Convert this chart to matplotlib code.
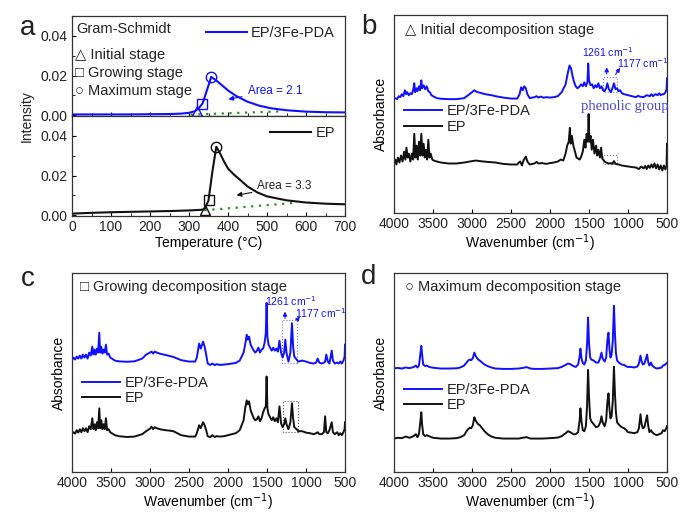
import matplotlib
matplotlib.use('Agg')
import matplotlib.pyplot as plt
from matplotlib.patches import Rectangle

plt.rcParams['font.family'] = ['Liberation Sans', 'DejaVu Sans']
plt.rcParams['font.size'] = 10
plt.rcParams['text.color'] = '#222222'

BLUE = '#1010ff'
BLACK = '#111111'
GREEN = '#2e8b2e'

# ---- panel a: Gram-Schmidt curves ----
temp_fe = [0, 50, 100, 150, 200, 250, 280, 300, 315, 325, 335, 345, 357, 370, 385, 400, 420, 450,
           480, 510, 550, 600, 650, 700]
gs_fe = [0.0004, 0.0004, 0.0004, 0.0004, 0.0005, 0.0006, 0.0008, 0.0012, 0.002, 0.0035, 0.006, 0.012,
         0.0193, 0.0175, 0.015, 0.0125, 0.0098, 0.0068, 0.0048, 0.0035, 0.0025, 0.0018, 0.0015, 0.0014]
temp_ep = [0, 50, 100, 150, 200, 250, 300, 330, 340, 350, 360, 370, 380, 390, 400, 415, 430, 450,
           475, 500, 550, 600, 650, 700]
gs_ep = [0.0008, 0.0012, 0.0015, 0.0017, 0.0019, 0.0021, 0.0024, 0.0027, 0.003, 0.0075, 0.022, 0.0345,
         0.031, 0.027, 0.0235, 0.0205, 0.018, 0.0145, 0.0115, 0.0095, 0.0075, 0.0064, 0.0058, 0.0055]
stage_t_fe = [321, 334, 357]
stage_v_fe = [0.002, 0.0055, 0.0193]
stage_t_ep = [340, 350, 370]
stage_v_ep = [0.0028, 0.0075, 0.0345]
stage_markers = ['^', 's', 'o']
base_t_fe = [304, 543]
base_v_fe = [0.0003, 0.002]
base_t_ep = [340, 577]
base_v_ep = [0.0025, 0.0063]

# ---- panel b: initial decomposition stage ----
wn_b_fe = [4000, 3980, 3960, 3940, 3920, 3900, 3880, 3860, 3845, 3830, 3810, 3790, 3770, 3750, 3740, 3730,
           3710, 3700, 3680, 3665, 3650, 3640, 3620, 3600, 3580, 3560, 3540, 3520, 3500, 3450, 3400, 3300,
           3200, 3100, 3050, 3000, 2970, 2940, 2900, 2850, 2800, 2750, 2700, 2600, 2500, 2420, 2390, 2370,
           2350, 2330, 2310, 2290, 2260, 2200, 2170, 2150, 2120, 2080, 2050, 2000, 1950, 1900, 1850, 1800,
           1770, 1750, 1730, 1710, 1690, 1670, 1650, 1630, 1600, 1580, 1560, 1540, 1520, 1510, 1500, 1480,
           1460, 1440, 1420, 1400, 1380, 1360, 1340, 1320, 1300, 1280, 1265, 1245, 1220, 1200, 1180, 1160,
           1140, 1120, 1100, 1080, 1050, 1000, 950, 900, 870, 850, 800, 760, 720, 700, 680, 650, 620, 600,
           580, 560, 540, 520, 505, 500]
ab_b_fe = [0.575, 0.58, 0.575, 0.59, 0.585, 0.6, 0.59, 0.62, 0.6, 0.61, 0.595, 0.605, 0.6, 0.63, 0.655, 0.61,
           0.63, 0.615, 0.64, 0.62, 0.67, 0.63, 0.645, 0.625, 0.64, 0.615, 0.61, 0.595, 0.59, 0.58, 0.577, 0.575,
           0.575, 0.58, 0.595, 0.61, 0.62, 0.612, 0.608, 0.602, 0.598, 0.595, 0.59, 0.583, 0.578, 0.578, 0.6, 0.635,
           0.62, 0.64, 0.63, 0.6, 0.58, 0.585, 0.59, 0.583, 0.588, 0.582, 0.585, 0.583, 0.585, 0.59, 0.61, 0.65,
           0.71, 0.745, 0.73, 0.69, 0.66, 0.64, 0.63, 0.635, 0.65, 0.64, 0.66, 0.64, 0.66, 0.755, 0.67, 0.645,
           0.65, 0.63, 0.645, 0.635, 0.655, 0.63, 0.64, 0.62, 0.615, 0.63, 0.655, 0.625, 0.61, 0.63, 0.655, 0.625,
           0.63, 0.615, 0.62, 0.605, 0.6, 0.595, 0.59, 0.585, 0.592, 0.588, 0.585, 0.595, 0.59, 0.6, 0.59, 0.6,
           0.595, 0.605, 0.595, 0.6, 0.6, 0.61, 0.625, 0.68]
wn_b_ep = [4000, 3985, 3970, 3950, 3930, 3910, 3890, 3870, 3855, 3840, 3825, 3810, 3790, 3770, 3755, 3740,
           3725, 3710, 3695, 3680, 3665, 3650, 3635, 3620, 3605, 3590, 3575, 3560, 3545, 3530, 3510, 3490,
           3450, 3400, 3300, 3200, 3100, 3000, 2950, 2900, 2800, 2700, 2600, 2500, 2420, 2400, 2380, 2360,
           2340, 2310, 2290, 2260, 2200, 2170, 2150, 2100, 2050, 2000, 1950, 1900, 1860, 1830, 1800, 1780,
           1760, 1745, 1735, 1720, 1700, 1680, 1660, 1640, 1620, 1600, 1580, 1560, 1545, 1530, 1515, 1505,
           1495, 1480, 1465, 1450, 1430, 1410, 1395, 1380, 1360, 1345, 1330, 1300, 1280, 1250, 1220, 1200,
           1180, 1160, 1120, 1080, 1050, 1000, 950, 900, 860, 830, 800, 780, 760, 740, 720, 700, 680, 660,
           640, 620, 600, 580, 560, 540, 520, 505, 500]
ab_b_ep = [0.25, 0.27, 0.245, 0.28, 0.255, 0.29, 0.26, 0.31, 0.27, 0.33, 0.28, 0.3, 0.26, 0.3, 0.27, 0.4,
           0.28, 0.34, 0.27, 0.36, 0.29, 0.4, 0.29, 0.35, 0.28, 0.32, 0.27, 0.37, 0.28, 0.3, 0.27, 0.265,
           0.26, 0.255, 0.25, 0.25, 0.255, 0.262, 0.265, 0.262, 0.258, 0.255, 0.248, 0.245, 0.245, 0.255, 0.26, 0.24,
           0.265, 0.285, 0.26, 0.245, 0.25, 0.258, 0.25, 0.252, 0.248, 0.252, 0.255, 0.26, 0.27, 0.265, 0.3, 0.34,
           0.36, 0.43, 0.35, 0.39, 0.34, 0.31, 0.28, 0.275, 0.27, 0.285, 0.31, 0.37, 0.33, 0.4, 0.36, 0.5,
           0.36, 0.39, 0.32, 0.37, 0.3, 0.34, 0.29, 0.32, 0.28, 0.33, 0.275, 0.26, 0.255, 0.25, 0.252, 0.248,
           0.262, 0.248, 0.245, 0.24, 0.238, 0.235, 0.232, 0.23, 0.222, 0.235, 0.225, 0.238, 0.222, 0.24, 0.228, 0.245,
           0.23, 0.25, 0.225, 0.245, 0.22, 0.24, 0.215, 0.24, 0.22, 0.24, 0.35]

# ---- panel c: growing decomposition stage ----
wn_c = [4000, 3980, 3960, 3940, 3920, 3900, 3880, 3860, 3840, 3820, 3800, 3780, 3760, 3740, 3725, 3710,
        3695, 3680, 3665, 3650, 3640, 3625, 3610, 3595, 3580, 3565, 3550, 3530, 3510, 3490, 3450, 3400,
        3300, 3200, 3100, 3050, 3000, 2980, 2960, 2940, 2900, 2850, 2800, 2750, 2700, 2650, 2600, 2500,
        2420, 2400, 2370, 2350, 2320, 2300, 2280, 2260, 2230, 2200, 2170, 2150, 2100, 2050, 2000, 1950,
        1900, 1850, 1800, 1780, 1760, 1745, 1730, 1710, 1690, 1670, 1650, 1630, 1610, 1590, 1570, 1550,
        1530, 1515, 1505, 1495, 1480, 1460, 1440, 1420, 1400, 1380, 1360, 1340, 1320, 1300, 1280, 1265,
        1250, 1225, 1200, 1180, 1165, 1150, 1120, 1100, 1050, 1000, 950, 900, 870, 850, 830, 800,
        770, 755, 740, 720, 700, 670, 655, 630, 600, 580, 560, 540, 520, 505, 500]
ab_c_fe = [0.563, 0.575, 0.565, 0.58, 0.57, 0.585, 0.57, 0.59, 0.575, 0.59, 0.57, 0.6, 0.585, 0.63, 0.59, 0.615,
           0.59, 0.62, 0.6, 0.7, 0.6, 0.63, 0.595, 0.615, 0.6, 0.64, 0.59, 0.595, 0.575, 0.57, 0.56, 0.556,
           0.554, 0.556, 0.57, 0.59, 0.6, 0.605, 0.595, 0.605, 0.598, 0.592, 0.588, 0.583, 0.578, 0.57, 0.562, 0.555,
           0.555, 0.575, 0.645, 0.62, 0.655, 0.63, 0.59, 0.545, 0.538, 0.545, 0.537, 0.542, 0.538, 0.54, 0.542, 0.545,
           0.548, 0.56, 0.6, 0.64, 0.69, 0.665, 0.68, 0.64, 0.625, 0.61, 0.6, 0.61, 0.625, 0.6, 0.615, 0.62,
           0.65, 0.7, 0.85, 0.68, 0.64, 0.625, 0.61, 0.625, 0.61, 0.62, 0.605, 0.66, 0.6, 0.575, 0.6, 0.665,
           0.6, 0.555, 0.6, 0.748, 0.63, 0.58, 0.565, 0.555, 0.56, 0.555, 0.548, 0.545, 0.55, 0.57, 0.55, 0.545,
           0.55, 0.555, 0.59, 0.555, 0.545, 0.61, 0.56, 0.545, 0.55, 0.545, 0.555, 0.545, 0.56, 0.58, 0.64]
ab_c_ep = [0.193, 0.2, 0.193, 0.21, 0.198, 0.215, 0.2, 0.22, 0.205, 0.22, 0.2, 0.23, 0.215, 0.27, 0.215, 0.24,
           0.21, 0.25, 0.22, 0.32, 0.22, 0.26, 0.215, 0.24, 0.215, 0.27, 0.21, 0.215, 0.2, 0.195, 0.185, 0.18,
           0.176, 0.178, 0.19, 0.205, 0.218, 0.228, 0.215, 0.225, 0.218, 0.213, 0.21, 0.208, 0.205, 0.195, 0.185, 0.178,
           0.178, 0.195, 0.235, 0.22, 0.25, 0.235, 0.21, 0.18, 0.175, 0.185, 0.175, 0.18, 0.178, 0.18, 0.185, 0.19,
           0.195, 0.21, 0.26, 0.32, 0.36, 0.34, 0.355, 0.31, 0.29, 0.27, 0.26, 0.265, 0.28, 0.255, 0.27, 0.3,
           0.32, 0.33, 0.48, 0.32, 0.29, 0.275, 0.26, 0.275, 0.255, 0.27, 0.25, 0.33, 0.245, 0.225, 0.24, 0.27,
           0.24, 0.215, 0.25, 0.345, 0.27, 0.225, 0.215, 0.205, 0.205, 0.198, 0.195, 0.19, 0.195, 0.2, 0.19, 0.19,
           0.2, 0.28, 0.2, 0.195, 0.21, 0.25, 0.2, 0.19, 0.2, 0.185, 0.195, 0.185, 0.2, 0.215, 0.25]

# ---- panel d: maximum decomposition stage ----
wn_d = [4000, 3950, 3900, 3850, 3800, 3750, 3720, 3700, 3680, 3660, 3650, 3640, 3625, 3600, 3580, 3550,
        3500, 3400, 3300, 3200, 3150, 3100, 3070, 3050, 3030, 3010, 2990, 2970, 2955, 2940, 2920, 2900,
        2870, 2840, 2800, 2750, 2700, 2600, 2500, 2400, 2350, 2300, 2250, 2200, 2100, 2000, 1900, 1850,
        1800, 1770, 1740, 1700, 1670, 1640, 1620, 1610, 1598, 1580, 1560, 1540, 1525, 1512, 1500, 1485,
        1470, 1440, 1410, 1380, 1355, 1340, 1325, 1300, 1280, 1265, 1250, 1238, 1225, 1210, 1195, 1180,
        1168, 1155, 1140, 1110, 1080, 1050, 1020, 1000, 960, 920, 880, 860, 840, 825, 810, 790,
        770, 755, 740, 725, 705, 690, 660, 630, 600, 570, 550, 530, 510, 500]
ab_d_fe = [0.521, 0.523, 0.52, 0.525, 0.522, 0.527, 0.535, 0.525, 0.535, 0.6, 0.634, 0.59, 0.54, 0.532, 0.535, 0.528,
           0.524, 0.52, 0.52, 0.521, 0.525, 0.535, 0.55, 0.56, 0.565, 0.562, 0.572, 0.6, 0.585, 0.575, 0.565, 0.56,
           0.55, 0.54, 0.532, 0.525, 0.52, 0.518, 0.518, 0.52, 0.523, 0.527, 0.52, 0.518, 0.518, 0.52, 0.522, 0.528,
           0.538, 0.545, 0.542, 0.532, 0.528, 0.54, 0.58, 0.62, 0.575, 0.548, 0.54, 0.56, 0.64, 0.776, 0.65, 0.575,
           0.565, 0.56, 0.55, 0.55, 0.575, 0.6, 0.57, 0.555, 0.575, 0.66, 0.7, 0.62, 0.575, 0.59, 0.66, 0.835,
           0.7, 0.6, 0.56, 0.548, 0.54, 0.538, 0.53, 0.528, 0.528, 0.525, 0.53, 0.545, 0.585, 0.555, 0.54, 0.545,
           0.57, 0.59, 0.55, 0.535, 0.55, 0.535, 0.525, 0.52, 0.522, 0.525, 0.535, 0.538, 0.545, 0.548]
ab_d_ep = [0.168, 0.172, 0.17, 0.178, 0.172, 0.18, 0.19, 0.175, 0.19, 0.26, 0.3, 0.24, 0.19, 0.18, 0.185, 0.18,
           0.172, 0.168, 0.168, 0.17, 0.175, 0.185, 0.205, 0.215, 0.222, 0.22, 0.235, 0.275, 0.26, 0.25, 0.24, 0.235,
           0.22, 0.205, 0.19, 0.178, 0.172, 0.168, 0.168, 0.168, 0.172, 0.175, 0.168, 0.168, 0.168, 0.17, 0.173, 0.18,
           0.195, 0.205, 0.2, 0.19, 0.19, 0.2, 0.26, 0.32, 0.26, 0.21, 0.205, 0.23, 0.33, 0.513, 0.38, 0.27,
           0.255, 0.24, 0.225, 0.23, 0.25, 0.28, 0.25, 0.23, 0.26, 0.35, 0.395, 0.32, 0.27, 0.28, 0.36, 0.529,
           0.4, 0.3, 0.25, 0.235, 0.225, 0.22, 0.21, 0.2, 0.198, 0.195, 0.2, 0.22, 0.29, 0.24, 0.22, 0.225,
           0.26, 0.285, 0.23, 0.2, 0.21, 0.2, 0.19, 0.185, 0.19, 0.195, 0.21, 0.205, 0.22, 0.23]


fig = plt.figure(figsize=(6.8, 5.12), dpi=100)
W, H = 680.0, 512.0


def axes_px(x0, y0, x1, y1):
    return fig.add_axes([x0 / W, 1 - y1 / H, (x1 - x0) / W, (y1 - y0) / H])


def style(ax):
    for s in ax.spines.values():
        s.set_color('#333333')
        s.set_linewidth(0.9)
    ax.tick_params(direction='in', length=3, width=0.8, labelsize=10, pad=3, labelcolor='#222222')
    ax.tick_params(which='minor', direction='in', length=2, width=0.6)


# panel a
axa1 = axes_px(72, 16, 345, 116)
axa2 = axes_px(72, 116, 345, 216)
for ax in (axa1, axa2):
    style(ax)
    ax.set_xlim(0, 700)
    ax.set_ylim(-0.0004, 0.05)
    ax.set_yticks([0.0, 0.02, 0.04])
    ax.set_yticks([0.01, 0.03], minor=True)
    ax.set_xticks(range(0, 701, 100))
    ax.set_xticks(range(50, 700, 100), minor=True)
    ax.yaxis.set_major_formatter(matplotlib.ticker.FormatStrFormatter('%.2f'))
axa1.tick_params(labelbottom=False)

axa1.plot(temp_fe, gs_fe, color=BLUE, lw=1.5, label='EP/3Fe-PDA')
axa1.plot(base_t_fe, base_v_fe, color=GREEN, lw=1.6, ls=(0, (1, 2.5)))
for t, v, m in zip(stage_t_fe, stage_v_fe, stage_markers):
    axa1.plot(t, v, marker=m, ms=7.5, mfc='none', mec=BLUE, mew=1.0)
axa1.legend(loc='upper right', frameon=False, handlelength=2.8, fontsize=10.5,
            borderaxespad=0.3, handletextpad=0.3)
axa1.annotate('Area = 2.1', xy=(394, 0.0078), xytext=(450, 0.0124), color=BLUE, fontsize=8.5,
              va='center', arrowprops=dict(arrowstyle='-|>', color=BLUE, lw=0.8, mutation_scale=7))
axa1.text(0.015, 0.87, 'Gram-Schmidt', transform=axa1.transAxes, fontsize=10.5, va='center')
stage_texts = ['\u25b3 Initial stage', '\u25a1 Growing stage', '\u25cb Maximum stage']
for i, s in enumerate(stage_texts):
    axa1.text(0.01, 0.61 - i * 0.18, s, transform=axa1.transAxes, fontsize=10.5, va='center')

axa2.plot(temp_ep, gs_ep, color=BLACK, lw=1.5, label='EP')
axa2.plot(base_t_ep, base_v_ep, color=GREEN, lw=1.6, ls=(0, (1, 2.5)))
for t, v, m in zip(stage_t_ep, stage_v_ep, stage_markers):
    axa2.plot(t, v, marker=m, ms=7.5, mfc='none', mec=BLACK, mew=1.0)
axa2.legend(loc='upper right', frameon=False, handlelength=2.8, fontsize=10.5,
            borderaxespad=0.3, handletextpad=0.3)
axa2.annotate('Area = 3.3', xy=(415, 0.0098), xytext=(475, 0.0145), color='#222222', fontsize=8.5,
              va='center', arrowprops=dict(arrowstyle='-|>', color=BLACK, lw=0.8, mutation_scale=7))
axa2.set_xlabel('Temperature (\u00b0C)', fontsize=10, labelpad=1)
fig.text(27 / W, 1 - 116 / H, 'Intensity', rotation=90, ha='center', va='center', fontsize=10)


def spectrum_axes(x0, y0, x1, y1):
    ax = axes_px(x0, y0, x1, y1)
    style(ax)
    ax.set_xlim(4000, 500)
    ax.set_ylim(0, 1)
    ax.set_yticks([])
    ax.set_xticks(range(4000, 499, -500))
    ax.set_xlabel('Wavenumber (cm$^{-1}$)', fontsize=10, labelpad=1)
    ax.set_ylabel('Absorbance', fontsize=10, labelpad=4)
    return ax


def spec_legend(ax, y):
    ax.legend(loc='upper left', bbox_to_anchor=(0.0, y), frameon=False, handlelength=2.6,
              fontsize=10.5, labelspacing=0.1, handletextpad=0.3, borderaxespad=0.3)


# panel b
axb = spectrum_axes(394, 15, 667, 213)
axb.plot(wn_b_fe, ab_b_fe, color=BLUE, lw=1.4, label='EP/3Fe-PDA')
axb.plot(wn_b_ep, ab_b_ep, color=BLACK, lw=1.4, label='EP')
spec_legend(axb, 0.6)
axb.text(0.04, 0.925, '\u25b3 Initial decomposition stage', transform=axb.transAxes, fontsize=10.5, va='center')
axb.add_patch(Rectangle((1140, 0.61), 180, 0.075, fill=False, ls=':', lw=0.8, ec='#7070ff'))
axb.add_patch(Rectangle((1145, 0.245), 175, 0.048, fill=False, ls=':', lw=0.8, ec='#888888'))
axb.text(1263, 0.815, '1261 cm$^{-1}$', color=BLUE, fontsize=7.5, ha='center', va='center')
axb.text(814, 0.759, '1177 cm$^{-1}$', color=BLUE, fontsize=7.5, ha='center', va='center')
axb.annotate('', xy=(1273, 0.75), xytext=(1273, 0.688),
             arrowprops=dict(arrowstyle='-|>', color=BLUE, lw=0.8, mutation_scale=6))
axb.annotate('', xy=(1081, 0.745), xytext=(1179, 0.688),
             arrowprops=dict(arrowstyle='-|>', color=BLUE, lw=0.8, mutation_scale=6))
axb.text(1038, 0.54, 'phenolic group', color='#4848d8', fontsize=10.5, ha='center', va='center',
         family='Liberation Serif')

# panel c
axc = spectrum_axes(72, 273, 345, 472)
axc.plot(wn_c, ab_c_fe, color=BLUE, lw=1.4, label='EP/3Fe-PDA')
axc.plot(wn_c, ab_c_ep, color=BLACK, lw=1.4, label='EP')
spec_legend(axc, 0.535)
axc.text(0.03, 0.93, '\u25a1 Growing decomposition stage', transform=axc.transAxes, fontsize=10.5, va='center')
axc.add_patch(Rectangle((1115, 0.548), 193, 0.217, fill=False, ls=':', lw=0.8, ec='#7070ff'))
axc.add_patch(Rectangle((1103, 0.2), 192, 0.156, fill=False, ls=':', lw=0.8, ec='#555555'))
axc.text(1195, 0.857, '1261 cm$^{-1}$', color=BLUE, fontsize=7.5, ha='center', va='center')
axc.text(811, 0.80, '1177 cm$^{-1}$', color=BLUE, fontsize=7.5, ha='center', va='center')
axc.annotate('', xy=(1269, 0.82), xytext=(1269, 0.758),
             arrowprops=dict(arrowstyle='-|>', color=BLUE, lw=0.8, mutation_scale=6))
axc.annotate('', xy=(1056, 0.792), xytext=(1128, 0.758),
             arrowprops=dict(arrowstyle='-|>', color=BLUE, lw=0.8, mutation_scale=6))

# panel d
axd = spectrum_axes(394, 273, 667, 472)
axd.plot(wn_d, ab_d_fe, color=BLUE, lw=1.4, label='EP/3Fe-PDA')
axd.plot(wn_d, ab_d_ep, color=BLACK, lw=1.4, label='EP')
spec_legend(axd, 0.5)
axd.text(0.04, 0.93, '\u25cb Maximum decomposition stage', transform=axd.transAxes, fontsize=10.5, va='center')

# panel letters
for s, x, y in [('a', 28, 28), ('b', 369, 27), ('c', 28, 279), ('d', 369, 277)]:
    fig.text(x / W, 1 - y / H, s, fontsize=20, ha='center', va='center')

fig.savefig('out.png', dpi=100)
